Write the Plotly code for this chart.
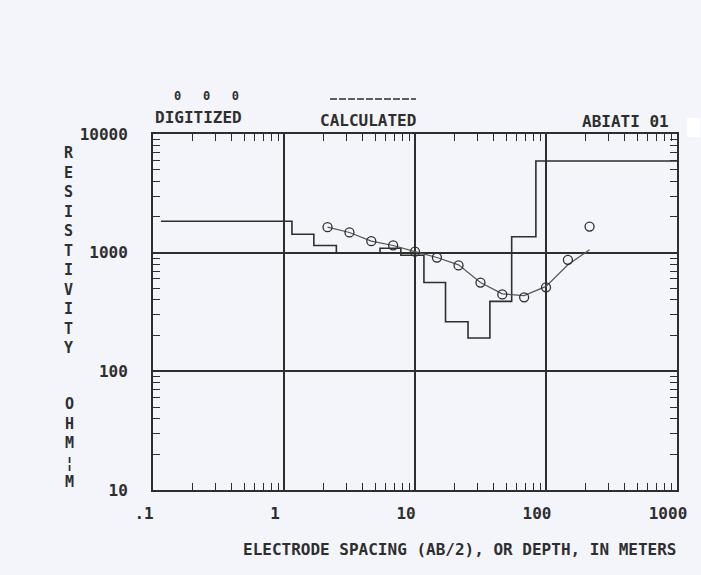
import plotly.graph_objects as go

# ---- data ----
spacing = [2.15, 3.16, 4.64, 6.81, 10, 14.7, 21.5, 31.6, 46.4, 68.1, 100, 147, 215]
digitized = [1640, 1480, 1250, 1150, 1020, 910, 780, 560, 445, 420, 510, 870, 1660]
calculated = [1640, 1480, 1250, 1150, 1020, 910, 790, 560, 450, 435, 520, 790, 1060]
layer_top = [0.115, 1.15, 1.69, 2.51, 5.41, 7.8, 11.7, 17.1, 25.4, 37.3, 54.7, 83.7, 1000]
layer_rho = [1840, 1430, 1150, 990, 1090, 950, 560, 262, 191, 389, 1362, 5930, 5930]

x_tickvals = [0.1, 1, 10, 100, 1000]
x_ticktext = [".1", "1", "10", "100", "1000"]
y_tickvals = [10, 100, 1000, 10000]
y_ticktext = ["10", "100", "1000", "10000"]

INK = "#2e2e2e"
BG = "#f3f5fa"
FONT = "DejaVu Sans Mono"

W, H = 701, 575
L, R, T, B = 153, 24, 134, 85
PW, PH = W - L - R, H - T - B


def px(x):
    return (x - L) / PW


def py(y):
    return (H - B - y) / PH


minor_x = [m * 10 ** e for e in range(-1, 3) for m in range(2, 10)]
minor_y = [m * 10 ** e for e in range(1, 4) for m in range(2, 10)]

fig = go.Figure()
fig.add_trace(go.Scatter(x=layer_top, y=layer_rho, mode="lines", line_shape="hv",
                         line=dict(color=INK, width=1.6), showlegend=False))
fig.add_trace(go.Scatter(x=spacing, y=calculated, mode="lines",
                         line=dict(color="#555555", width=1.2), showlegend=False))
fig.add_trace(go.Scatter(x=spacing, y=digitized, mode="markers",
                         marker=dict(symbol="circle-open", size=9, color=INK,
                                     line=dict(width=1.3, color=INK)),
                         showlegend=False))

tickfont = dict(family=FONT, size=16, color=INK, weight="bold")
axis_common = dict(
    type="log", showline=True, linecolor=INK, linewidth=2, mirror="allticks",
    showgrid=True, gridcolor=INK, gridwidth=1.5, ticks="",
    tickfont=tickfont,
    minor=dict(ticks="inside", ticklen=7, tickwidth=1.4, tickcolor=INK, showgrid=False),
)

fig.update_xaxes(range=[-1, 3], tickmode="array", tickvals=x_tickvals, ticktext=x_ticktext,
                 ticklabelshift=-9, ticklabelstandoff=8, **axis_common)
fig.update_xaxes(minor_tickvals=minor_x)
fig.update_yaxes(range=[1, 4], tickmode="array", tickvals=y_tickvals, ticktext=y_ticktext,
                 ticklabelstandoff=20, **axis_common)
fig.update_yaxes(minor_tickvals=minor_y)

tf = dict(family=FONT, size=16, color=INK, weight="bold")
vf = dict(family=FONT, size=15, color=INK, weight="bold")
ann = [
    dict(x=px(206), y=py(96), text="0   0   0", font=dict(family=FONT, size=12, color=INK, weight="bold")),
    dict(x=px(198), y=py(117), text="DIGITIZED", font=tf),
    dict(x=px(368), y=py(120), text="CALCULATED", font=tf),
    dict(x=px(625), y=py(122), text="ABIATI 01", font=tf),
    dict(x=px(459), y=py(549), text="ELECTRODE SPACING (AB/2), OR DEPTH, IN METERS", font=tf),
    dict(x=px(69), y=py(250), text="<br>".join("RESISTIVITY"), font=vf),
    dict(x=px(69), y=py(443), text="<br>".join(["O", "H", "M", "¦", "M"]), font=vf),
]
for a in ann:
    a.update(xref="paper", yref="paper", showarrow=False, xanchor="center", yanchor="middle")

shapes = [
    dict(type="line", xref="paper", yref="paper", x0=px(330), x1=px(416), y0=py(99), y1=py(99),
         line=dict(color=INK, width=1.5, dash="7px,2px")),
    dict(type="rect", xref="paper", yref="paper", x0=px(687), x1=px(700), y0=py(137), y1=py(118),
         fillcolor="white", line=dict(width=0)),
]

fig.update_layout(
    width=W, height=H, margin=dict(l=L, r=R, t=T, b=B),
    paper_bgcolor=BG, plot_bgcolor=BG, annotations=ann, shapes=shapes,
    font=dict(family=FONT, color=INK),
)

fig.write_html("out.html", config={"displayModeBar": False},
               post_script="document.body.style.margin='0';document.body.style.background='%s';" % BG)
